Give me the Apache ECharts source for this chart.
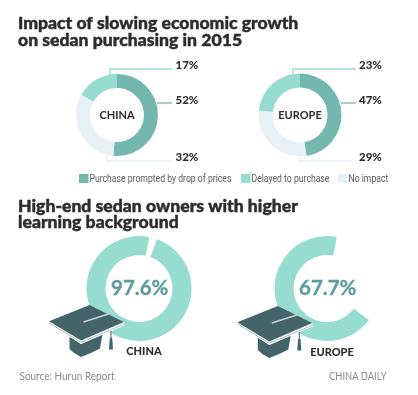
<!DOCTYPE html>
<html><head><meta charset="utf-8">
<style>html,body{margin:0;padding:0;background:#fff}#c{width:418px;height:395px}</style>
<script src="https://cdn.jsdelivr.net/npm/echarts@6/dist/echarts.min.js"></script>
</head><body><div id="c"></div>
<script>
const categories = ['Purchase prompted by drop of prices', 'Delayed to purchase', 'No impact'];
const chinaImpact = [52, 32, 17];
const europeImpact = [47, 29, 23];
const chinaDegree = [97.6, 2.4];
const europeDegree = [67.7, 32.3];
const impactLabels = ['52%', '32%', '17%'];
const europeLabels = ['47%', '29%', '23%'];

const DARK = '#74b7af', MID = '#96dccf', LIGHT = '#e7f1f5', INK = '#2f2b2d', CAP = '#436469', NUM = '#5b9d98';
const sliceColors = [DARK, LIGHT, MID];
const FONT = 'Lato, Roboto, sans-serif';

function impactPie(name, values, center, radius) {
  return {
    type: 'pie', name, center, radius, startAngle: 90, clockwise: true, silent: true,
    label: {show: false}, labelLine: {show: false}, animation: false,
    data: values.map((v, i) => ({
      value: v,
      name: [categories[0], categories[2], categories[1]][i],
      itemStyle: {color: sliceColors[i]}
    }))
  };
}
function degreePie(name, values, center, radius, startAngle) {
  return {
    type: 'pie', name, center, radius, startAngle, clockwise: true, silent: true,
    label: {show: false}, labelLine: {show: false}, animation: false,
    data: [
      {value: values[0], name: name + ' share', itemStyle: {color: MID}},
      {value: values[1], name: name + ' rest', itemStyle: {color: 'rgba(0,0,0,0)'}}
    ]
  };
}
function txt(text, x, y, font, fill, align, extra, scaleX) {
  return {type: 'text', z: 40, x, y, scaleX: scaleX || 1, style: Object.assign({text, font, fill, align: align || 'left', verticalAlign: 'middle'}, (extra || {}))};
}
function heavy(text, x, y) {
  return txt(text, x, y, '900 17.6px ' + FONT, INK, 'left', {stroke: INK, lineWidth: 0.45});
}
function leader(points, color) {
  return {type: 'polyline', z: 5, shape: {points}, style: {stroke: color, lineWidth: 1.3, fill: null}};
}
function cap(dx, dy) {
  const z = 30;
  return {
    type: 'group', x: dx, y: dy,
    children: [
      {type: 'polygon', z, shape: {points: [[69.5,336],[69.5,349],[74,353],[81,357],[92,352.5],[100,348.5],[102.5,334],[81,344]]}, style: {fill: CAP}},
      {type: 'polygon', z, shape: {points: [[49,321.5],[89.5,305],[124.5,322.5],[124.5,325.5],[81,344],[49,324]]}, style: {fill: '#fff'}},
      {type: 'polyline', z, shape: {points: [[49,322.8],[81,342.4],[124.5,324]]}, style: {stroke: '#8ea3a5', lineWidth: 0.7, fill: null}},
      {type: 'polygon', z, shape: {points: [[49,321.2],[89.5,305],[124,322],[81,340.5]]}, style: {fill: CAP}},
      {type: 'line', z, shape: {x1: 83.5, y1: 322, x2: 108.5, y2: 314}, style: {stroke: '#c7d2d2', lineWidth: 1.6}},
      {type: 'line', z, shape: {x1: 111, y1: 331, x2: 111, y2: 340}, style: {stroke: CAP, lineWidth: 1}},
      {type: 'polygon', z, shape: {points: [[109.8,338],[112.2,338],[113,349.5],[109,349.5]]}, style: {fill: CAP}}
    ]
  };
}
const legendX = [79, 241, 338];
const legendG = [];
categories.forEach((c, i) => {
  legendG.push({type: 'rect', z: 40, shape: {x: legendX[i], y: 174, width: 9.5, height: 9}, style: {fill: [DARK, MID, LIGHT][i]}});
  legendG.push({type: 'text', z: 40, x: legendX[i] + 10.5, y: 179.5, scaleX: 0.8,
    style: {text: c, font: '400 10.8px Roboto, sans-serif', fill: '#5a5a5a', verticalAlign: 'middle'}});
});

const chart = echarts.init(document.getElementById('c'), null, {renderer: 'canvas'});
chart.setOption({
  backgroundColor: '#fff',
  animation: false,
  series: [
    impactPie('China', chinaImpact, [117, 115], [27, 41]),
    impactPie('Europe', europeImpact, [300, 115], [27.5, 41.5]),
    degreePie('China degree', chinaDegree, [139, 288.5], [33.5, 52.5], 70),
    degreePie('Europe degree', europeDegree, [327, 288.5], [33.5, 52.5], -37)
  ],
  graphic: [
    heavy('Impact of slowing economic growth', 18, 23.5),
    heavy('on sedan purchasing in 2015', 18, 40),
    heavy('High-end sedan owners with higher', 18, 206),
    heavy('learning background', 18, 222),
    txt('CHINA', 117, 115, '700 11px ' + FONT, INK, 'center'),
    txt('EUROPE', 300, 115.5, '700 11px ' + FONT, INK, 'center'),
    leader([[110,75],[110,69],[172,69]], MID),
    leader([[157,103],[172,103]], DARK),
    leader([[107,155],[107,161],[172,161]], LIGHT),
    leader([[293,74],[293,69],[356,69]], MID),
    leader([[341,103],[356,103]], DARK),
    leader([[299,157],[299,161],[356,161]], LIGHT),
    txt(impactLabels[2], 175.5, 65.5, '900 11.5px ' + FONT, INK),
    txt(impactLabels[0], 175.5, 100.7, '900 11.5px ' + FONT, INK),
    txt(impactLabels[1], 175.5, 157, '900 11.5px ' + FONT, INK),
    txt(europeLabels[2], 359, 65.5, '900 11.5px ' + FONT, INK),
    txt(europeLabels[0], 359, 100.7, '900 11.5px ' + FONT, INK),
    txt(europeLabels[1], 359, 157, '900 11.5px ' + FONT, INK),
    txt('97.6%', 111, 288.5, '700 20.5px ' + FONT, NUM, 'left', {stroke: NUM, lineWidth: 0.3}),
    txt('67.7%', 299, 288.5, '700 20.5px ' + FONT, NUM, 'left', {stroke: NUM, lineWidth: 0.3}),
    cap(0, 0),
    cap(188.3, 1),
    txt('CHINA', 144, 351, '900 11px ' + FONT, INK, 'center'),
    txt('EUROPE', 332, 352.5, '900 11px ' + FONT, INK, 'center'),
    txt('Source: Hurun Report', 19.5, 377, '400 10.5px ' + FONT, '#8a8a8a', 'left', null, 0.95),
    txt('CHINA DAILY', 329, 377, '400 10.5px ' + FONT, '#8a8a8a', 'left', null, 0.89)
  ].concat(legendG)
});
</script></body></html>
